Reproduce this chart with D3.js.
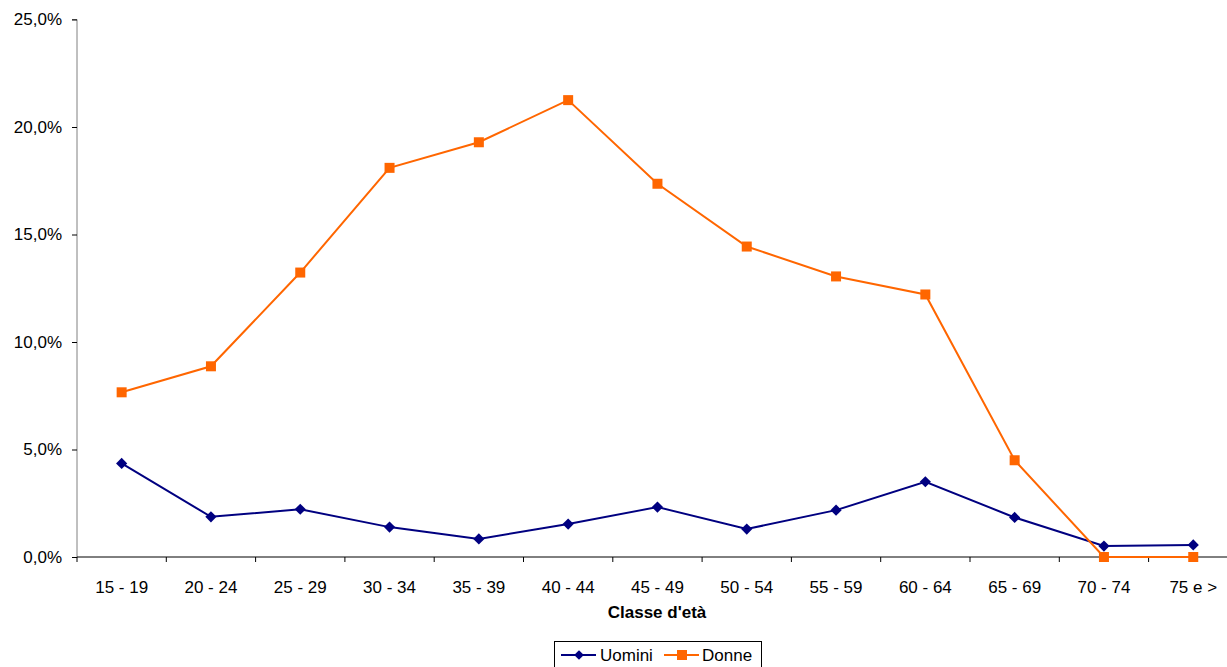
<!DOCTYPE html>
<html><head><meta charset="utf-8">
<script src="https://cdn.jsdelivr.net/npm/d3@7/dist/d3.min.js"></script>
<style>body{margin:0;background:#fff}svg{display:block;font-family:"Liberation Sans",Arial,sans-serif}</style>
</head><body>
<svg id="c" width="1227" height="667"></svg>
<script>
const categories = ["15 - 19","20 - 24","25 - 29","30 - 34","35 - 39","40 - 44","45 - 49","50 - 54","55 - 59","60 - 64","65 - 69","70 - 74","75 e >"];
const uomini = [4.35, 1.87, 2.22, 1.39, 0.84, 1.53, 2.32, 1.30, 2.18, 3.50, 1.84, 0.51, 0.56];
const donne = [7.66, 8.87, 13.23, 18.10, 19.29, 21.25, 17.36, 14.44, 13.05, 12.21, 4.50, 0.0, 0.0];
const yTicks = [0, 5, 10, 15, 20, 25];
const seriesNames = ["Uomini", "Donne"];
const colors = ["#000080", "#FF6600"];

const FS = 17;
const svg = d3.select("#c");
const x0 = 77, bw = 89.3;
const x = d3.scaleBand().domain(categories).range([x0, x0 + bw * categories.length]);
const y = d3.scaleLinear().domain([0, 25]).range([557, 19.5]);
const fmt = v => v.toFixed(1).replace(".", ",") + "%";

const yAxis = svg.append("g").attr("transform", `translate(${x0},0)`)
  .call(d3.axisLeft(y).tickValues(yTicks).tickFormat(fmt).tickSize(5).tickPadding(10));
yAxis.select(".domain").attr("stroke", "#808080").attr("d", `M-5,${y(25)}H0V${y(0)}`);
yAxis.selectAll(".tick line").attr("stroke", "#000");
yAxis.selectAll("text").attr("font-size", FS).attr("fill", "#000").attr("font-family", "Liberation Sans, Arial");

const xAxis = svg.append("g").attr("transform", `translate(0,${y(0)})`)
  .call(d3.axisBottom(x).tickSize(0).tickPadding(24));
xAxis.select(".domain").attr("stroke", "#000").attr("d", `M${x0},0H1227`);
xAxis.selectAll("text").attr("font-size", FS).attr("fill", "#000").attr("font-family", "Liberation Sans, Arial");
// category boundary ticks
svg.append("g").selectAll("line").data(d3.range(categories.length + 1)).join("line")
  .attr("x1", i => x0 + i * x.step()).attr("x2", i => x0 + i * x.step())
  .attr("y1", y(0)).attr("y2", y(0) + 5).attr("stroke", "#000");

svg.append("text").attr("x", 657).attr("y", 618).attr("text-anchor", "middle")
  .attr("font-size", FS).attr("font-weight", "bold").text("Classe d'età");

const cx = c => x(c) + x.bandwidth() / 2;
const line = d3.line().x((d, i) => cx(categories[i])).y(d => y(d));
const data = [uomini, donne];

[0, 1].forEach(s => {
  svg.append("path").datum(data[s]).attr("d", line).attr("fill", "none")
    .attr("stroke", colors[s]).attr("stroke-width", 2);
});
[0, 1].forEach(s => {
  const g = svg.append("g");
  if (s === 0) {
    g.selectAll("path").data(data[s]).join("path")
      .attr("d", d3.symbol(d3.symbolDiamond2, 80))
      .attr("transform", (d, i) => `translate(${cx(categories[i])},${y(d)})`)
      .attr("fill", colors[s]);
  } else {
    g.selectAll("rect").data(data[s]).join("rect")
      .attr("x", (d, i) => cx(categories[i]) - 5).attr("y", d => y(d) - 5)
      .attr("width", 10).attr("height", 10).attr("fill", colors[s]);
  }
});

// legend
const lg = svg.append("g");
lg.append("rect").attr("x", 554.5).attr("y", 641.5).attr("width", 207).attr("height", 30)
  .attr("fill", "#fff").attr("stroke", "#000");
const items = [{lx: 561, tx: 600}, {lx: 664, tx: 702}];
items.forEach((it, s) => {
  lg.append("line").attr("x1", it.lx).attr("x2", it.lx + 35).attr("y1", 655).attr("y2", 655)
    .attr("stroke", colors[s]).attr("stroke-width", 2);
  if (s === 0) {
    lg.append("path").attr("d", d3.symbol(d3.symbolDiamond2, 60))
      .attr("transform", `translate(${it.lx + 18},655)`).attr("fill", colors[s]);
  } else {
    lg.append("rect").attr("x", it.lx + 13).attr("y", 650).attr("width", 10).attr("height", 10).attr("fill", colors[s]);
  }
  lg.append("text").attr("x", it.tx).attr("y", 661).attr("font-size", FS).text(seriesNames[s]);
});
</script>
</body></html>
